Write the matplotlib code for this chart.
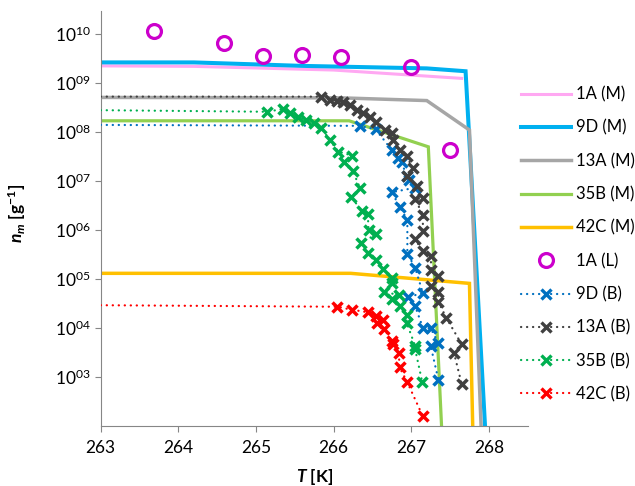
import numpy as np
import matplotlib
matplotlib.use("Agg")
import matplotlib.pyplot as plt
from matplotlib.lines import Line2D

plt.rcParams["font.family"] = ["Lato", "DejaVu Sans"]
plt.rcParams["mathtext.fontset"] = "custom"
plt.rcParams["mathtext.rm"] = "Lato"
plt.rcParams["mathtext.it"] = "Lato:italic:bold"
plt.rcParams["mathtext.bf"] = "Lato:bold"

# --- model curves (M) ---
t_1a_m = [263.0, 264.2, 266.0, 267.65]
n_1a_m = [2.25e9, 2.2e9, 1.85e9, 1.25e9]

t_9d_m = [263.0, 264.2, 265.6, 267.2, 267.7, 267.958]
n_9d_m = [2.65e9, 2.65e9, 2.25e9, 2.0e9, 1.75e9, 60]

t_13a_m = [263.0, 266.1, 267.2, 267.75, 267.905]
n_13a_m = [5.1e8, 5.0e8, 4.4e8, 1.1e8, 60]

t_35b_m = [263.0, 266.2, 267.22, 267.397]
n_35b_m = [1.7e8, 1.7e8, 5.0e7, 60]

t_42c_m = [263.0, 266.22, 267.75, 267.795]
n_42c_m = [1.3e5, 1.3e5, 8.1e4, 60]

# --- 1A (L) ---
t_1a_l = [263.69, 264.59, 265.09, 265.59, 266.10, 267.00, 267.50]
n_1a_l = [1.15e10, 6.5e9, 3.6e9, 3.7e9, 3.45e9, 2.1e9, 4.4e7]

# --- measurements (B) ---
t_9d_b = [266.34, 266.54, 266.75, 266.83, 266.88, 266.94, 266.97, 267.05,
          266.75, 266.85, 266.95, 266.95, 267.05, 267.15, 266.96, 267.05,
          267.15, 267.25, 267.35, 267.25, 267.35]
n_9d_b = [1.34e8, 1.14e8, 4.3e7, 3.0e7, 2.4e7, 1.24e7, 1.06e7, 7.3e6,
          5.9e6, 3.0e6, 1.6e6, 3.3e5, 1.7e5, 5.1e4, 4.3e4, 2.8e4,
          1.0e4, 9.8e3, 4.9e3, 4.3e3, 8.7e2]
start_9d_b = 1.4e8

t_13a_b = [265.84, 265.95, 266.05, 266.12, 266.21, 266.30, 266.38, 266.47,
           266.55, 266.66, 266.75, 266.77, 266.85, 266.94, 267.02, 266.95,
           267.08, 267.15, 267.05, 267.15, 267.15, 267.05, 267.15, 267.25,
           267.26, 267.35, 267.26, 267.35, 267.35, 267.45, 267.65, 267.55,
           267.65]
n_13a_b = [5.3e8, 4.5e8, 4.4e8, 4.1e8, 3.6e8, 2.8e8, 2.4e8, 2.0e8,
           1.64e8, 1.11e8, 9.5e7, 7.0e7, 4.3e7, 3.2e7, 1.84e7, 1.28e7,
           7.8e6, 4.5e6, 4.2e6, 2.06e6, 9.4e5, 6.4e5, 3.7e5, 2.9e5,
           1.49e5, 1.14e5, 7.1e4, 5.3e4, 3.4e4, 1.62e4, 4.6e3, 3.1e3,
           7.1e2]
start_13a_b = 5.3e8

t_35b_b = [265.14, 265.35, 265.44, 265.54, 265.65, 265.75, 265.84, 265.95,
           266.06, 266.24, 266.14, 266.25, 266.34, 266.23, 266.36, 266.44,
           266.45, 266.55, 266.35, 266.44, 266.55, 266.64, 266.75, 266.75,
           266.65, 266.84, 266.75, 266.85, 266.94, 266.94, 267.05, 267.05,
           267.14]
n_35b_b = [2.6e8, 2.97e8, 2.43e8, 2.07e8, 1.77e8, 1.52e8, 1.22e8, 6.9e7,
           4.0e7, 3.3e7, 2.5e7, 1.57e7, 7.2e6, 4.8e6, 2.4e6, 2.16e6,
           1.02e6, 8.1e5, 5.5e5, 3.4e5, 2.4e5, 1.56e5, 1.06e5, 8.1e4,
           5.4e4, 4.7e4, 3.8e4, 2.8e4, 1.8e4, 1.28e4, 4.3e3, 3.7e3,
           8.0e2]
start_35b_b = 2.8e8

t_42c_b = [266.05, 266.24, 266.44, 266.55, 266.64, 266.56, 266.65, 266.75,
           266.76, 266.84, 266.85, 266.95, 267.15]
n_42c_b = [2.7e4, 2.34e4, 2.08e4, 1.75e4, 1.43e4, 1.27e4, 9.6e3, 5.4e3,
           4.6e3, 3.0e3, 1.55e3, 7.7e2, 1.55e2]
start_42c_b = 2.9e4

x_ticks = [263, 264, 265, 266, 267, 268]
y_ticks = [1e3, 1e4, 1e5, 1e6, 1e7, 1e8, 1e9, 1e10]
y_labels = [r"$\mathregular{10^{%02d}}$" % k for k in range(3, 11)]

fig = plt.figure(figsize=(6.35, 4.86), dpi=100)
ax = fig.add_axes([0.1586, 0.124, 0.6724, 0.853])

m_series = [
    (t_1a_m, n_1a_m, "#FFA8F2", 2.2, "1A (M)"),
    (t_9d_m, n_9d_m, "#00B0F0", 2.9, "9D (M)"),
    (t_13a_m, n_13a_m, "#A6A6A6", 2.5, "13A (M)"),
    (t_35b_m, n_35b_m, "#92D050", 2.3, "35B (M)"),
    (t_42c_m, n_42c_m, "#FFC000", 2.5, "42C (M)"),
]
b_series = [
    (t_9d_b, n_9d_b, start_9d_b, "#0070C0", "9D (B)"),
    (t_13a_b, n_13a_b, start_13a_b, "#404040", "13A (B)"),
    (t_35b_b, n_35b_b, start_35b_b, "#00B050", "35B (B)"),
    (t_42c_b, n_42c_b, start_42c_b, "#FF0000", "42C (B)"),
]

dots = (0, (0.1, 2.6))
handles = []
for t, n, c, lw, lab in m_series:
    ax.plot(t, n, color=c, lw=lw, solid_joinstyle="miter", zorder=2)
    handles.append(Line2D([], [], color=c, lw=lw, label=lab))

circ = dict(marker="o", ms=10, mfc="none", mec="#CC00CC", mew=2.3, ls="none")
ax.plot(t_1a_l, n_1a_l, zorder=5, **circ)
handles.append(Line2D([], [], label="1A (L)", **circ))

for t, n, s, c, lab in b_series:
    ax.plot([263.0] + t, [s] + n, color=c, lw=1.6, ls=dots,
            dash_capstyle="round", zorder=3)
    ax.plot(t, n, color=c, ls="none", marker="x", ms=7, mew=2.5, zorder=4)
    handles.append(Line2D([], [], color=c, lw=1.6, ls=dots, dash_capstyle="round",
                          marker="x", ms=6.5, mew=2.4, label=lab))

ax.set_yscale("log")
ax.set_xlim(263, 268.5)
ax.set_ylim(1e2, 10 ** 10.47)
ax.set_xticks(x_ticks)
ax.set_yticks(y_ticks, y_labels)
ax.minorticks_off()
ax.tick_params(labelsize=12.5, color="#868686", length=4)
ax.tick_params(axis="x", pad=6)
ax.tick_params(axis="y", pad=3)
for side in ("top", "right"):
    ax.spines[side].set_visible(False)
for side in ("left", "bottom"):
    ax.spines[side].set_color("#868686")

ax.set_xlabel(r"$\mathit{T}$ [K]", fontsize=12.5, fontweight="bold")
ax.set_ylabel(r"$\mathit{n}_{\mathit{m}}$ [g$^{\mathbf{-1}}$]", fontsize=12.5,
              fontweight="bold")
ax.xaxis.set_label_coords(0.5, -0.1)
ax.yaxis.set_label_coords(-0.17, 0.513)

fig.legend(handles=handles, loc="upper left", bbox_to_anchor=(0.8205, 0.822),
           frameon=False, fontsize=12, handlelength=3.0, handletextpad=0.3,
           labelspacing=1.03, borderpad=0, borderaxespad=0)

fig.savefig("out.png", dpi=100)
